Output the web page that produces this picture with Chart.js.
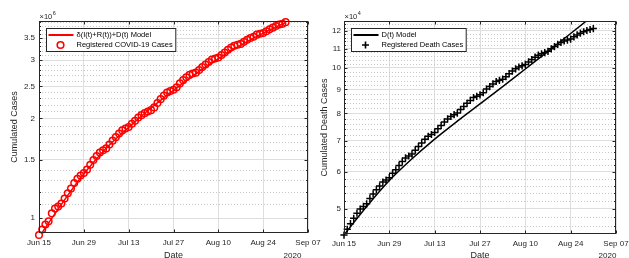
<!DOCTYPE html>
<html>
<head>
<meta charset="utf-8">
<script src="https://cdn.jsdelivr.net/npm/chart.js@4"></script>
<style>
  html, body { margin: 0; padding: 0; background: #fff; overflow: hidden; width: 629px; height: 258px; }
  #wrap { position: relative; width: 629px; height: 258px; overflow: hidden; }
  canvas { position: absolute; top: 0; }
  #chart-cases { left: 0; }
  #chart-deaths { left: 310px; }
</style>
</head>
<body>
<div id="wrap">
  <canvas id="chart-cases" width="330" height="264"></canvas>
  <canvas id="chart-deaths" width="319" height="264"></canvas>
</div>
<script>
  // days counted from Jun 15 2020
  var xTickDays = [0, 14, 28, 42, 56, 70, 84];
  var xTickLabels = ['Jun 15', 'Jun 29', 'Jul 13', 'Jul 27', 'Aug 10', 'Aug 24', 'Sep 07'];

  // registered cases, Jun 15 .. Aug 31
  var cases = [888271, 923189, 955377, 978142, 1032913, 1067579, 1083341, 1106470, 1145906, 1188631,
    1228114, 1274974, 1313667, 1344143, 1368195, 1402041, 1448753, 1496858, 1539081, 1577004,
    1603055, 1623284, 1668589, 1713160, 1755779, 1800827, 1839850, 1864681, 1884967, 1926824,
    1966748, 2012151, 2046328, 2074860, 2098389, 2118646, 2159654, 2227514, 2287475, 2343366,
    2394513, 2419091, 2442375, 2483191, 2552265, 2610102, 2662485, 2707877, 2733677, 2750318,
    2801921, 2859073, 2912212, 2962442, 3012412, 3035422, 3057470, 3109630, 3164785, 3224876,
    3275520, 3317096, 3340197, 3359570, 3407354, 3456652, 3501975, 3532330, 3582362, 3605783,
    3622861, 3669995, 3717156, 3761391, 3804803, 3846153, 3862311, 3908272];

  // registered deaths, Jun 15 .. Aug 31
  var deaths = [43959, 45241, 46510, 47748, 48954, 49976, 50617, 51271, 52645, 53830,
    54971, 55961, 57070, 57622, 58314, 59594, 60632, 61884, 63174, 64265,
    64867, 65487, 66741, 67964, 69184, 70398, 71469, 72100, 72833, 74133,
    75366, 76688, 77851, 78772, 79488, 80120, 81487, 82771, 84082, 85238,
    86449, 87004, 87618, 88539, 90134, 91263, 92475, 93563, 94104, 94665,
    95819, 97256, 98493, 99572, 100477, 101049, 101752, 103026, 104201, 105463,
    106523, 107232, 107852, 108536, 109888, 111100, 112304, 113358, 114250, 114744,
    115309, 116580, 117665, 118649, 119504, 120262, 120828, 121381];

  // model curves, read weekly
  var modelDays = [0, 7, 14, 21, 28, 35, 42, 49, 56, 63, 70, 77];
  var modelCases = [875000, 1100000, 1360000, 1625000, 1880000, 2150000, 2430000, 2730000, 3030000, 3330000, 3620000, 3900000];
  var modelDeaths = [44000, 50600, 57500, 64000, 70500, 77000, 83800, 91200, 99500, 108500, 118500, 129500];

  // y ticks
  var casesMajor = [1e6, 1.5e6, 2e6, 2.5e6, 3e6, 3.5e6];
  var casesMinor = [1.1e6, 1.2e6, 1.3e6, 1.4e6, 1.6e6, 1.7e6, 1.8e6, 1.9e6, 2.1e6, 2.2e6, 2.3e6, 2.4e6,
    2.6e6, 2.7e6, 2.8e6, 2.9e6, 3.1e6, 3.2e6, 3.3e6, 3.4e6, 3.6e6, 3.7e6, 3.8e6, 3.9e6];
  var deathsMajor = [5e4, 6e4, 7e4, 8e4, 9e4, 10e4, 11e4, 12e4];
  var deathsMinor = [4.6e4, 4.8e4, 5.2e4, 5.4e4, 5.6e4, 5.8e4, 6.2e4, 6.4e4, 6.6e4, 6.8e4,
    7.2e4, 7.4e4, 7.6e4, 7.8e4, 8.2e4, 8.4e4, 8.6e4, 8.8e4, 9.2e4, 9.4e4, 9.6e4, 9.8e4,
    10.2e4, 10.4e4, 10.6e4, 10.8e4, 11.2e4, 11.4e4, 11.6e4, 11.8e4, 12.2e4, 12.4e4];

  var FONT = '"Liberation Sans", Arial, Helvetica, sans-serif';
  var TXT = '#262626';

  function pts(xs, ys) {
    return ys.map(function (v, i) { return { x: xs ? xs[i] : i, y: v }; });
  }

  function axesPlugin(cfg) {
    return {
      id: 'matlabAxes',
      beforeDatasetsDraw: function (chart) {
        var a = chart.chartArea, ys = chart.scales.y, ctx = chart.ctx;
        ctx.save();
        ctx.strokeStyle = '#c8c8c8';
        ctx.lineWidth = 1;
        ctx.setLineDash([1, 2]);
        cfg.minor.forEach(function (v) {
          var py = Math.round(ys.getPixelForValue(v)) + 0.5;
          ctx.beginPath(); ctx.moveTo(a.left, py); ctx.lineTo(a.right, py); ctx.stroke();
        });
        ctx.restore();
      },
      afterDatasetsDraw: function (chart) {
        var a = chart.chartArea, xs = chart.scales.x, ys = chart.scales.y, ctx = chart.ctx;
        var L = Math.round(a.left) + 0.5, R = Math.round(a.right) - 0.5;
        var T = Math.round(a.top) + 0.5, B = Math.round(a.bottom) - 0.5;
        ctx.save();

        // legend box
        ctx.font = '7.5px ' + FONT;
        var tw = Math.max(ctx.measureText(cfg.lineLabel).width, ctx.measureText(cfg.markLabel).width);
        var lx = L + 7, ly = T + 7, lw = 30 + tw + 3, lh = 23;
        ctx.fillStyle = '#fff';
        ctx.fillRect(lx, ly, lw, lh);
        ctx.strokeStyle = TXT; ctx.lineWidth = 1;
        ctx.strokeRect(lx, ly, lw, lh);
        var r1 = ly + 6.5, r2 = ly + 16.5;
        ctx.strokeStyle = cfg.color; ctx.lineWidth = 2;
        ctx.beginPath(); ctx.moveTo(lx + 2, r1); ctx.lineTo(lx + 27, r1); ctx.stroke();
        ctx.lineWidth = 1.6;
        ctx.beginPath();
        if (cfg.marker === 'circle') {
          ctx.arc(lx + 14, r2, 3.3, 0, Math.PI * 2);
        } else {
          ctx.moveTo(lx + 14 - 3.5, r2); ctx.lineTo(lx + 14 + 3.5, r2);
          ctx.moveTo(lx + 14, r2 - 3.5); ctx.lineTo(lx + 14, r2 + 3.5);
        }
        ctx.stroke();
        ctx.fillStyle = '#000';
        ctx.textBaseline = 'middle';
        ctx.textAlign = 'left';
        ctx.fillText(cfg.lineLabel, lx + 30, r1);
        ctx.fillText(cfg.markLabel, lx + 30, r2);

        // box and ticks
        ctx.strokeStyle = TXT; ctx.lineWidth = 1;
        ctx.strokeRect(L, T, R - L, B - T);
        ctx.beginPath();
        xTickDays.forEach(function (d) {
          var px = Math.round(xs.getPixelForValue(d)) + 0.5;
          ctx.moveTo(px, B); ctx.lineTo(px, B - 3);
          ctx.moveTo(px, T); ctx.lineTo(px, T + 3);
        });
        cfg.major.forEach(function (v) {
          var py = Math.round(ys.getPixelForValue(v)) + 0.5;
          ctx.moveTo(L, py); ctx.lineTo(L + 3, py);
          ctx.moveTo(R, py); ctx.lineTo(R - 3, py);
        });
        cfg.minor.forEach(function (v) {
          var py = Math.round(ys.getPixelForValue(v)) + 0.5;
          ctx.moveTo(L, py); ctx.lineTo(L + 1.5, py);
          ctx.moveTo(R, py); ctx.lineTo(R - 1.5, py);
        });
        ctx.stroke();

        // exponent and year
        ctx.fillStyle = TXT;
        ctx.textBaseline = 'alphabetic';
        ctx.font = '7.5px ' + FONT;
        ctx.fillText('\u00d710', L, T - 3);
        var ew = ctx.measureText('\u00d710').width;
        ctx.font = '5.5px ' + FONT;
        ctx.fillText(cfg.exponent, L + ew + 0.5, T - 7);
        ctx.font = '8px ' + FONT;
        ctx.textAlign = 'center';
        ctx.fillText('2020', R + cfg.yearDx, 258);
        ctx.restore();
      }
    };
  }

  function makeChart(el, cfg) {
    return new Chart(el, {
      type: 'scatter',
      data: {
        datasets: [
          {
            label: cfg.markLabel,
            data: pts(null, cfg.values),
            showLine: false,
            pointStyle: cfg.marker === 'circle' ? 'circle' : 'cross',
            pointRadius: cfg.marker === 'circle' ? 3.3 : 3.6,
            pointBorderWidth: cfg.marker === 'circle' ? 1.5 : 1.5,
            pointBackgroundColor: 'rgba(0,0,0,0)',
            pointBorderColor: cfg.color,
            borderColor: cfg.color,
            clip: false,
          },
          {
            label: cfg.lineLabel,
            data: pts(modelDays, cfg.model),
            showLine: true,
            pointRadius: 0,
            borderColor: cfg.color,
            borderWidth: 1.5,
            cubicInterpolationMode: 'monotone',
          },
        ],
      },
      options: {
        responsive: false,
        animation: false,
        events: [],
        layout: { padding: { top: 21, right: cfg.padRight, left: 0, bottom: 0 } },
        plugins: { legend: { display: false }, tooltip: { enabled: false } },
        scales: {
          x: {
            type: 'linear',
            min: 0,
            max: 84,
            afterBuildTicks: function (s) { s.ticks = xTickDays.map(function (d) { return { value: d }; }); },
            afterFit: function (s) { s.height = cfg.xHeight; s.paddingLeft = 0; s.paddingRight = 0; },
            ticks: {
              autoSkip: false,
              maxRotation: 0,
              padding: 5,
              color: TXT,
              font: { family: FONT, size: 8 },
              callback: function (v) { return xTickLabels[xTickDays.indexOf(v)]; },
            },
            grid: { color: '#dedede', drawTicks: false },
            border: { display: false },
            title: { display: true, text: 'Date', color: TXT, font: { family: FONT, size: 9 }, padding: { top: 0, bottom: 3 } },
          },
          y: {
            type: 'logarithmic',
            min: cfg.yMin,
            max: cfg.yMax,
            bounds: 'data',
            afterBuildTicks: function (s) { s.ticks = cfg.major.map(function (v) { return { value: v }; }); },
            afterFit: function (s) { s.width = cfg.yWidth; s.paddingTop = 0; s.paddingBottom = 0; },
            ticks: {
              padding: cfg.yPad,
              color: TXT,
              font: { family: FONT, size: 8 },
              callback: function (v) { return String(Math.round(v / cfg.scale * 10) / 10); },
            },
            grid: { color: '#dedede', drawTicks: false },
            border: { display: false },
            title: { display: true, text: cfg.yTitle, color: TXT, font: { family: FONT, size: 9 }, padding: { top: 9, bottom: 0 } },
          },
        },
      },
      plugins: [axesPlugin(cfg)],
    });
  }

  makeChart(document.getElementById('chart-cases'), {
    values: cases,
    model: modelCases,
    major: casesMajor,
    minor: casesMinor,
    scale: 1e6,
    exponent: '6',
    yMin: 0.901e6,
    yMax: 3.94e6,
    color: '#ff0000',
    marker: 'circle',
    lineLabel: '\u03b4(I(t)+R(t))+D(t) Model',
    markLabel: 'Registered COVID-19 Cases',
    yTitle: 'Cumulated Cases',
    padRight: 22,
    yWidth: 39,
    yPad: 4,
    xHeight: 31,
    yearDx: -15,
  });

  makeChart(document.getElementById('chart-deaths'), {
    values: deaths,
    model: modelDeaths,
    major: deathsMajor,
    minor: deathsMinor,
    scale: 1e4,
    exponent: '4',
    yMin: 4.42e4,
    yMax: 12.6e4,
    color: '#000000',
    marker: 'cross',
    lineLabel: 'D(t) Model',
    markLabel: 'Registered Death Cases',
    yTitle: 'Cumulated Death Cases',
    padRight: 13,
    yWidth: 34,
    yPad: 3,
    xHeight: 30,
    yearDx: -8,
  });
</script>
</body>
</html>
